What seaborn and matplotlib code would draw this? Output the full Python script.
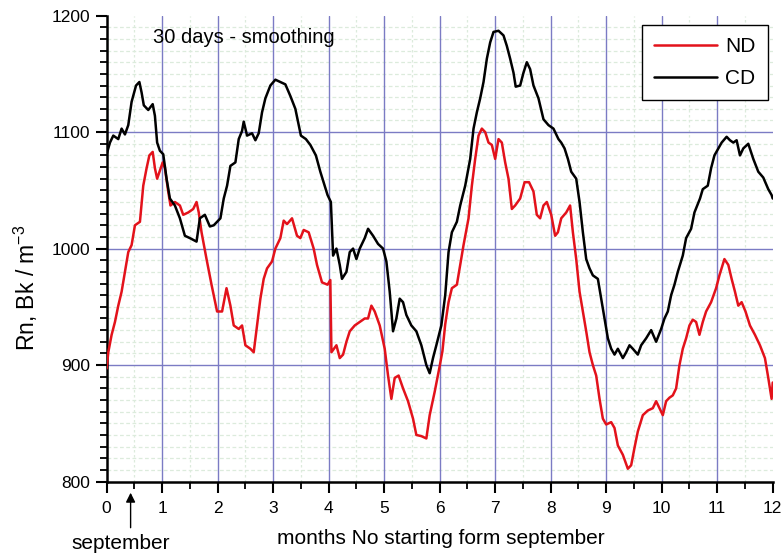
import numpy as np
import pandas as pd
import matplotlib
matplotlib.use("Agg")
import matplotlib.pyplot as plt
import seaborn as sns
from matplotlib.ticker import MultipleLocator

# Radon volume activity, 30-day running mean, months counted from September
cd_month = [0.00, 0.06, 0.12, 0.21, 0.27, 0.33, 0.39, 0.45, 0.53, 0.59, 0.63, 0.67,
            0.75, 0.83, 0.87, 0.91, 0.96, 1.02, 1.08, 1.14, 1.23, 1.32, 1.41, 1.50,
            1.62, 1.68, 1.77, 1.86, 1.93, 2.05, 2.11, 2.17, 2.23, 2.32, 2.38, 2.44,
            2.47, 2.53, 2.62, 2.68, 2.74, 2.80, 2.86, 2.95, 3.04, 3.13, 3.22, 3.31,
            3.40, 3.50, 3.59, 3.67, 3.77, 3.85, 3.98, 4.04, 4.08, 4.14, 4.20, 4.24,
            4.32, 4.38, 4.44, 4.50, 4.56, 4.65, 4.71, 4.80, 4.89, 4.98, 5.04, 5.10,
            5.16, 5.22, 5.28, 5.34, 5.40, 5.49, 5.58, 5.67, 5.76, 5.82, 5.88, 5.94,
            6.03, 6.10, 6.16, 6.22, 6.31, 6.37, 6.46, 6.55, 6.61, 6.67, 6.73, 6.79,
            6.85, 6.91, 6.97, 7.06, 7.15, 7.21, 7.27, 7.33, 7.37, 7.45, 7.51, 7.57,
            7.63, 7.69, 7.78, 7.87, 7.96, 8.05, 8.14, 8.19, 8.25, 8.31, 8.37, 8.46,
            8.52, 8.58, 8.64, 8.70, 8.76, 8.85, 8.91, 8.97, 9.03, 9.09, 9.15, 9.21,
            9.30, 9.36, 9.42, 9.48, 9.57, 9.63, 9.72, 9.81, 9.90, 9.99, 10.05, 10.11,
            10.17, 10.23, 10.29, 10.38, 10.44, 10.53, 10.59, 10.69, 10.74, 10.83,
            10.89, 10.95, 11.02, 11.08, 11.17, 11.23, 11.29, 11.35, 11.41, 11.47,
            11.56, 11.65, 11.74, 11.83, 11.92, 11.98, 12.00]
cd_value = [1081, 1091, 1097, 1094, 1103, 1098, 1106, 1126, 1140, 1143, 1134, 1123,
            1119, 1124, 1114, 1091, 1084, 1081, 1060, 1043, 1037, 1026, 1011, 1009,
            1006, 1026, 1029, 1019, 1020, 1026, 1043, 1054, 1071, 1074, 1094, 1101,
            1109, 1097, 1099, 1093, 1099, 1117, 1129, 1140, 1145, 1143, 1141, 1131,
            1120, 1097, 1094, 1089, 1080, 1066, 1046, 1040, 994, 1000, 986, 974,
            980, 997, 1000, 991, 1000, 1009, 1017, 1011, 1004, 1000, 989, 963,
            929, 940, 957, 954, 943, 934, 929, 917, 900, 893, 906, 917,
            934, 960, 997, 1014, 1023, 1037, 1054, 1077, 1103, 1117, 1129, 1143,
            1163, 1177, 1186, 1187, 1183, 1174, 1163, 1151, 1139, 1140, 1151, 1160,
            1154, 1140, 1129, 1111, 1106, 1103, 1094, 1091, 1086, 1077, 1066, 1060,
            1040, 1014, 991, 983, 977, 974, 957, 940, 923, 914, 909, 914,
            906, 911, 917, 914, 909, 917, 923, 930, 920, 931, 940, 946,
            960, 969, 980, 994, 1009, 1017, 1031, 1043, 1051, 1054,
            1069, 1080, 1086, 1091, 1096, 1093, 1091, 1093, 1080, 1086,
            1090, 1077, 1066, 1061, 1051, 1046, 1043]

nd_month = [0.00, 0.03, 0.09, 0.15, 0.21, 0.27, 0.33, 0.39, 0.45, 0.51, 0.60, 0.66,
            0.72, 0.77, 0.83, 0.87, 0.91, 0.96, 1.01, 1.05, 1.11, 1.15, 1.23, 1.32,
            1.38, 1.47, 1.56, 1.62, 1.66, 1.71, 1.80, 1.89, 1.95, 1.99, 2.08, 2.16,
            2.23, 2.29, 2.38, 2.44, 2.50, 2.59, 2.65, 2.71, 2.77, 2.83, 2.89, 2.98,
            3.04, 3.13, 3.19, 3.25, 3.34, 3.43, 3.49, 3.55, 3.64, 3.73, 3.79, 3.88,
            3.98, 4.03, 4.05, 4.14, 4.20, 4.26, 4.32, 4.38, 4.47, 4.56, 4.65, 4.71,
            4.77, 4.83, 4.92, 5.01, 5.07, 5.13, 5.19, 5.26, 5.34, 5.43, 5.52, 5.58,
            5.67, 5.76, 5.82, 5.91, 6.00, 6.05, 6.10, 6.16, 6.22, 6.31, 6.37, 6.43,
            6.52, 6.58, 6.64, 6.70, 6.76, 6.82, 6.88, 6.94, 7.00, 7.06, 7.12, 7.18,
            7.24, 7.30, 7.36, 7.45, 7.53, 7.61, 7.69, 7.75, 7.81, 7.87, 7.93, 8.01,
            8.08, 8.13, 8.19, 8.28, 8.35, 8.40, 8.46, 8.52, 8.58, 8.64, 8.70, 8.76,
            8.82, 8.88, 8.94, 9.00, 9.09, 9.15, 9.21, 9.30, 9.39, 9.45, 9.51, 9.57,
            9.66, 9.75, 9.84, 9.90, 9.96, 10.02, 10.08, 10.14, 10.20, 10.26, 10.32,
            10.38, 10.44, 10.50, 10.56, 10.62, 10.68, 10.74, 10.80, 10.89, 10.98,
            11.04, 11.13, 11.20, 11.26, 11.32, 11.38, 11.44, 11.51, 11.59, 11.68,
            11.77, 11.86, 11.92, 11.98, 12.00]
nd_value = [897, 911, 926, 937, 951, 963, 980, 997, 1003, 1020, 1023, 1054,
            1069, 1080, 1083, 1069, 1060, 1067, 1074, 1069, 1049, 1037, 1040, 1037,
            1029, 1031, 1034, 1040, 1031, 1014, 991, 969, 955, 946, 946, 966,
            951, 934, 931, 934, 917, 914, 911, 934, 957, 974, 983, 989,
            1000, 1009, 1024, 1021, 1026, 1011, 1009, 1016, 1014, 1000, 986, 971,
            969, 973, 911, 917, 906, 909, 920, 929, 934, 937, 940, 940,
            951, 946, 934, 914, 891, 871, 889, 891, 880, 869, 854, 840,
            839, 837, 857, 877, 899, 912, 935, 954, 966, 969, 986, 1003,
            1026, 1054, 1077, 1097, 1103, 1100, 1091, 1089, 1077, 1094, 1091, 1074,
            1060, 1034, 1037, 1043, 1057, 1057, 1049, 1029, 1026, 1037, 1040, 1029,
            1011, 1014, 1026, 1031, 1037, 1014, 991, 963, 946, 929, 911, 900,
            891, 871, 854, 849, 851, 846, 831, 823, 811, 814, 829, 843,
            857, 861, 863, 869, 863, 857, 869, 872, 874, 880, 900,
            914, 923, 934, 939, 937, 926, 937, 946, 954, 966,
            977, 991, 986, 974, 963, 951, 954, 946, 934, 926,
            917, 906, 889, 871, 885]

x_ticks = list(range(0, 13))
y_ticks = [800, 900, 1000, 1100, 1200]

cd = pd.DataFrame({"month": cd_month, "Rn": cd_value})
nd = pd.DataFrame({"month": nd_month, "Rn": nd_value})

sns.set_style("white")
plt.rcParams["font.family"] = ["Liberation Sans", "DejaVu Sans"]
plt.rcParams["mathtext.fontset"] = "custom"
plt.rcParams["mathtext.rm"] = "Liberation Sans"
plt.rcParams["mathtext.it"] = "Liberation Sans"
plt.rcParams["text.color"] = "black"
plt.rcParams["axes.labelcolor"] = "black"
plt.rcParams["xtick.color"] = "black"
plt.rcParams["ytick.color"] = "black"

fig = plt.figure(figsize=(7.84, 5.58), dpi=100)
ax = fig.add_axes([0.136, 0.137, 0.8496, 0.835])

# background grids
grid_major = "#7b7bc4"
grid_minor = "#dcebdc"
for m in np.arange(0.5, 12, 1.0):
    ax.axvline(m, color=grid_minor, lw=0.9, ls=(0, (2, 2)), zorder=0)
for v in range(810, 1200, 10):
    if v % 100:
        ax.axhline(v, color=grid_minor, lw=0.9, ls=(0, (3, 2)), zorder=0)
for m in range(1, 12):
    ax.axvline(m, color=grid_major, lw=1.0, zorder=0.5)
for v in (900, 1000, 1100):
    ax.axhline(v, color=grid_major, lw=1.0, zorder=0.5)

sns.lineplot(data=nd, x="month", y="Rn", ax=ax, color="#e3121b", lw=1.8,
             label="ND", zorder=3)
sns.lineplot(data=cd, x="month", y="Rn", ax=ax, color="black", lw=1.8,
             label="CD", zorder=4)

ax.set_xlim(0, 12)
ax.set_ylim(800, 1200)
ax.set_xticks(x_ticks)
ax.set_yticks(y_ticks)
ax.xaxis.set_minor_locator(MultipleLocator(0.5))
ax.yaxis.set_minor_locator(MultipleLocator(10))
ax.tick_params(axis="both", which="both", bottom=True, left=True,
               top=False, right=False)
ax.tick_params(axis="both", which="major", direction="out", length=8, width=1.5,
               labelsize=12.5, color="black", labelcolor="black", pad=4)
ax.tick_params(axis="both", which="minor", direction="out", length=5, width=1.3,
               color="black")
ax.tick_params(axis="x", which="major", pad=6)

for side in ("top", "right"):
    ax.spines[side].set_visible(False)
for side in ("left", "bottom"):
    ax.spines[side].set_color("black")
    ax.spines[side].set_linewidth(1.8)

ax.set_xlabel("months No starting form september", fontsize=15)
ax.xaxis.set_label_coords(0.502, -0.102)
ax.set_ylabel(r"Rn, Bk / m$^{-3}$", fontsize=16.5)
ax.yaxis.set_label_coords(-0.100, 0.415)

ax.text(0.069, 0.952, "30 days - smoothing", transform=ax.transAxes,
        fontsize=14.5, ha="left", va="center")

# arrow marking September
ax.annotate("", xy=(0.036, -0.018), xycoords="axes fraction",
            xytext=(0.036, -0.105), textcoords="axes fraction",
            arrowprops=dict(arrowstyle="-|>", color="black", lw=1.0,
                            mutation_scale=14))
ax.text(0.021, -0.132, "september", transform=ax.transAxes, fontsize=15,
        ha="center", va="center")

leg = ax.legend(loc="upper right", bbox_to_anchor=(0.993, 0.98), borderaxespad=0,
                fontsize=15, handlelength=3.0, handletextpad=0.4,
                labelspacing=0.6, borderpad=0.6, fancybox=False, framealpha=1)
leg.get_frame().set_edgecolor("black")
leg.get_frame().set_linewidth(1.0)

fig.savefig("out.png", dpi=100)
